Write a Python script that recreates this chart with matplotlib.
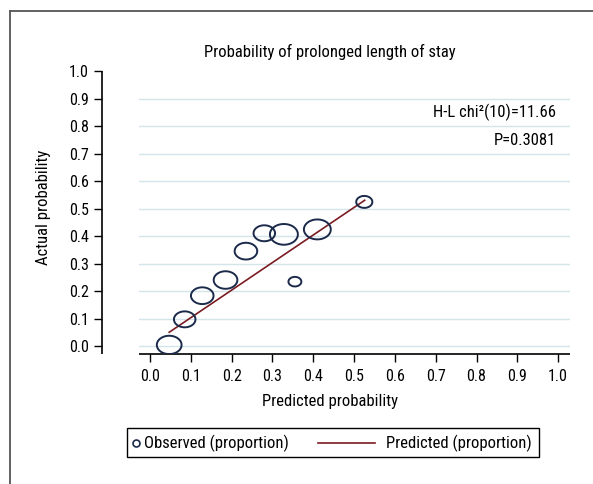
import numpy as np
import matplotlib
matplotlib.use("Agg")
from matplotlib import pyplot as plt
from matplotlib.path import Path
from matplotlib.lines import Line2D
from matplotlib.patches import Rectangle

plt.rcParams['font.family'] = ['Roboto Condensed', 'Roboto', 'DejaVu Sans']

# Hosmer-Lemeshow groups: mean predicted vs observed proportion
predicted = [0.047, 0.085, 0.128, 0.185, 0.235, 0.280, 0.328, 0.355, 0.410, 0.525]
observed = [0.004, 0.097, 0.183, 0.240, 0.345, 0.410, 0.406, 0.234, 0.424, 0.524]
group_n = [23, 20, 21, 22, 21, 20, 26, 12, 25, 15]   # relative marker size
line_x = [0.047, 0.526]
line_y = [0.050, 0.530]

ticks = np.round(np.arange(0, 1.01, 0.1), 1)
tick_labels = ["%.1f" % t for t in ticks]

navy = "#1b2a4a"
maroon = "#7a1c22"
grid_c = "#d3e4ea"

fig = plt.figure(figsize=(5.93, 4.84), dpi=100)
W, H = 593, 484
# axes box in pixels: left 139, right 570, bottom 354, top 60
ax = fig.add_axes([139 / W, 1 - 354 / H, (570 - 139) / W, (354 - 60) / H])

# stretched circle marker (picture is wider than tall)
t = np.linspace(0, 2 * np.pi, 80)
ell = Path(np.column_stack([1.35 * np.cos(t), np.sin(t)]))

sizes = [n ** 2 * 0.6 for n in group_n]
ax.scatter(predicted, observed, s=sizes, marker=ell, facecolors="none",
           edgecolors=navy, linewidths=1.4, zorder=3)
ax.plot(line_x, line_y, color=maroon, lw=1.2, zorder=2)

ax.set_xlim(-0.027, 1.029)
ax.set_ylim(-0.029, 1.04)
for y in ticks[:-1]:
    ax.axhline(y, color=grid_c, lw=1, zorder=0)

ax.set_xticks(ticks)
ax.set_xticklabels(tick_labels)
ax.set_yticks(ticks)
ax.set_yticklabels(tick_labels)
ax.tick_params(axis="both", labelsize=11.5, length=6, width=1, color="black")
ax.tick_params(axis="x", pad=5)

ax.spines["top"].set_visible(False)
ax.spines["right"].set_visible(False)
ax.spines["left"].set_position(("outward", 37 * 72 / 100))
ax.spines["left"].set_bounds(-0.029, 1.0)
for s in ("left", "bottom"):
    ax.spines[s].set_linewidth(1.2)
    ax.spines[s].set_capstyle("butt")

# title and x label are centred on the whole graph, not the plot region
mid = (330 - 139) / (570 - 139)
ax.set_xlabel("Predicted probability", fontsize=12, labelpad=7)
ax.xaxis.label.set_x(mid)
ax.set_ylabel("Actual probability", fontsize=12, labelpad=13)
ax.set_title("Probability of prolonged length of stay", fontsize=12, pad=-3, x=mid)

ax.text(0.995, 0.851, "H-L chi²(10)=11.66", ha="right", va="center", fontsize=12)
ax.text(0.995, 0.749, "P=0.3081", ha="right", va="center", fontsize=12)

# legend box drawn by hand (marker sits right by its text, line key is long)
def fx(px):
    return px / W

def fy(py):
    return 1 - py / H

fig.add_artist(Rectangle((fx(127), fy(457)), fx(539) - fx(127), fy(428) - fy(457),
                         transform=fig.transFigure, fill=False, ec="black", lw=1.0))
fig.add_artist(Line2D([fx(136)], [fy(443)], marker="o", ls="none", mfc="none",
                      mec=navy, ms=5, mew=1.2))
fig.text(fx(144), fy(443), "Observed (proportion)", ha="left", va="center", fontsize=12)
fig.add_artist(Line2D([fx(318), fx(375)], [fy(443), fy(443)], color=maroon, lw=1.2))
fig.text(fx(532), fy(443), "Predicted (proportion)", ha="right", va="center", fontsize=12)

# outer frame (left and top edges visible)
fig.add_artist(Line2D([9.5 / W, 9.5 / W], [0, 1 - 11 / H], color="#555555", lw=1.3))
fig.add_artist(Line2D([9.5 / W, 1], [1 - 11 / H, 1 - 11 / H], color="#555555", lw=1.3))

fig.savefig("out.png", dpi=100)
